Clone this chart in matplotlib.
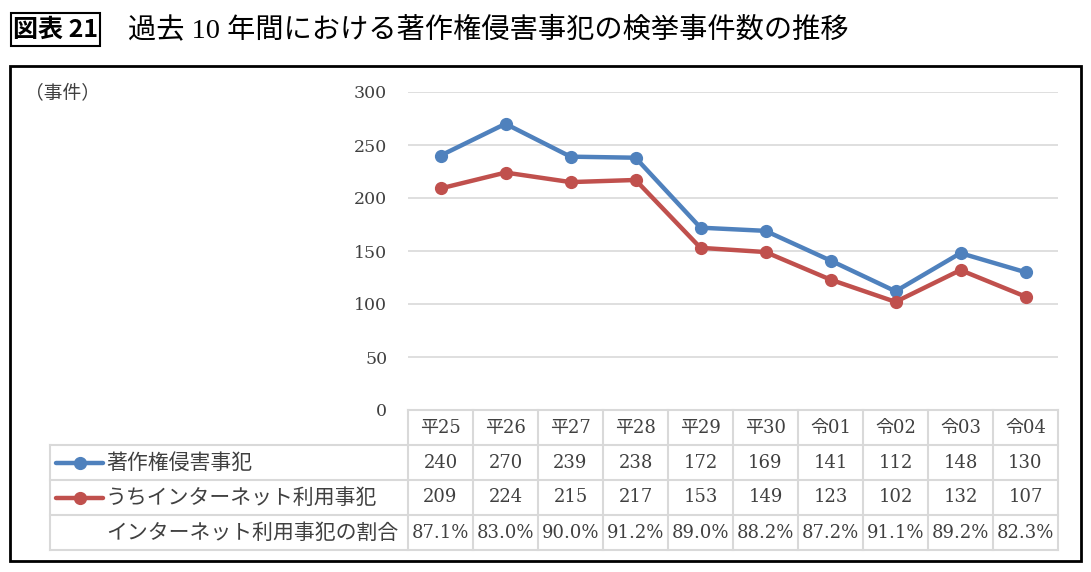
import matplotlib
matplotlib.use('Agg')
import matplotlib.pyplot as plt
from matplotlib.patches import Rectangle
from matplotlib.lines import Line2D
from matplotlib.transforms import blended_transform_factory

# ---- data ----
fig_label = '図表 21'
title = '過去 10 年間における著作権侵害事犯の検挙事件数の推移'
unit_label = '（事件）'
years = ['平25', '平26', '平27', '平28', '平29', '平30', '令01', '令02', '令03', '令04']
total = [240, 270, 239, 238, 172, 169, 141, 112, 148, 130]
internet = [209, 224, 215, 217, 153, 149, 123, 102, 132, 107]
ratio = ['87.1%', '83.0%', '90.0%', '91.2%', '89.0%', '88.2%', '87.2%', '91.1%', '89.2%', '82.3%']
series_names = ['著作権侵害事犯', 'うちインターネット利用事犯']
ratio_label = 'インターネット利用事犯の割合'
yticks = [0, 50, 100, 150, 200, 250, 300]

colors = ['#4F81BD', '#C0504D']
JP = ['Noto Sans CJK JP', 'DejaVu Sans']
MIX = ['DejaVu Serif', 'Noto Sans CJK JP']
TITLE_F = ['Liberation Serif', 'Noto Sans CJK JP']
TXT = '#404040'
GRID = '#D9D9D9'

W, H = 1091, 572
fig = plt.figure(figsize=(W / 100, H / 100), dpi=100)
fig.patch.set_facecolor('white')

ov = fig.add_axes([0, 0, 1, 1])
ov.set_xlim(0, W)
ov.set_ylim(H, 0)
ov.axis('off')

# title
ov.add_patch(Rectangle((11, 13), 89, 33, fill=False, edgecolor='black', lw=1.5))
ov.text(55.5, 30, fig_label, family=JP, fontsize=18, fontweight='bold',
        ha='center', va='center', color='black')
ov.text(128, 30, title, family=TITLE_F, fontsize=20.3, ha='left', va='center', color='black')

# outer frame
ov.add_patch(Rectangle((10, 66), 1071, 495, fill=False, edgecolor='black', lw=2))
ov.text(25, 93, unit_label, family=JP, fontsize=13.5, ha='left', va='center', color=TXT)

# plot axes
pl, pr, pt, pb = 408, 1058, 92, 410
ax = fig.add_axes([pl / W, (H - pb) / H, (pr - pl) / W, (pb - pt) / H])
ax.patch.set_alpha(0)
x = list(range(len(years)))
for vals, c in zip([total, internet], colors):
    ax.plot(x, vals, color=c, lw=3.2, marker='o', markersize=8.5, zorder=3)
ax.set_xlim(-0.5, len(years) - 0.5)
ax.set_ylim(0, 300)
ax.set_yticks(yticks)
ax.set_yticklabels([str(v) for v in yticks], family='DejaVu Serif', fontsize=12.5, color=TXT)
ax.set_xticks([])
ax.tick_params(axis='y', length=0, pad=15)
for s in ax.spines.values():
    s.set_visible(False)
ax.yaxis.grid(True, color=GRID, lw=1.2)
ax.set_axisbelow(True)

# data table
tr = blended_transform_factory(ax.transData, ov.transData)
rows_y = [410, 445, 480, 515, 550]
left_x = 50
n = len(years)
ov.plot([pl, pr], [rows_y[0], rows_y[0]], color=GRID, lw=1.5)
for yy in rows_y[1:]:
    ov.plot([left_x, pr], [yy, yy], color=GRID, lw=1.5)
ov.plot([left_x, left_x], [rows_y[1], rows_y[-1]], color=GRID, lw=1.5)
for i in range(n + 1):
    ov.plot([i - 0.5, i - 0.5], [rows_y[0], rows_y[-1]], color=GRID, lw=1.5, transform=tr)

centers = [(rows_y[k] + rows_y[k + 1]) / 2 for k in range(4)]
for i in range(n):
    for k, txt in enumerate([years[i], str(total[i]), str(internet[i]), ratio[i]]):
        ov.text(i, centers[k], txt, family=MIX, fontsize=13, ha='center', va='center',
                color=TXT, transform=tr)

# legend keys in table
for k, (name, c) in enumerate(zip(series_names, colors)):
    yy = centers[1 + k]
    ov.add_line(Line2D([56, 103], [yy, yy], color=c, lw=3.2, solid_capstyle='round'))
    ov.add_line(Line2D([79.5], [yy], color=c, marker='o', markersize=8.5))
    ov.text(106, yy, name, family=JP, fontsize=15, ha='left', va='center', color=TXT)
ov.text(106, centers[3], ratio_label, family=JP, fontsize=15, ha='left', va='center', color=TXT)

fig.savefig('out.png', dpi=100, facecolor='white')
